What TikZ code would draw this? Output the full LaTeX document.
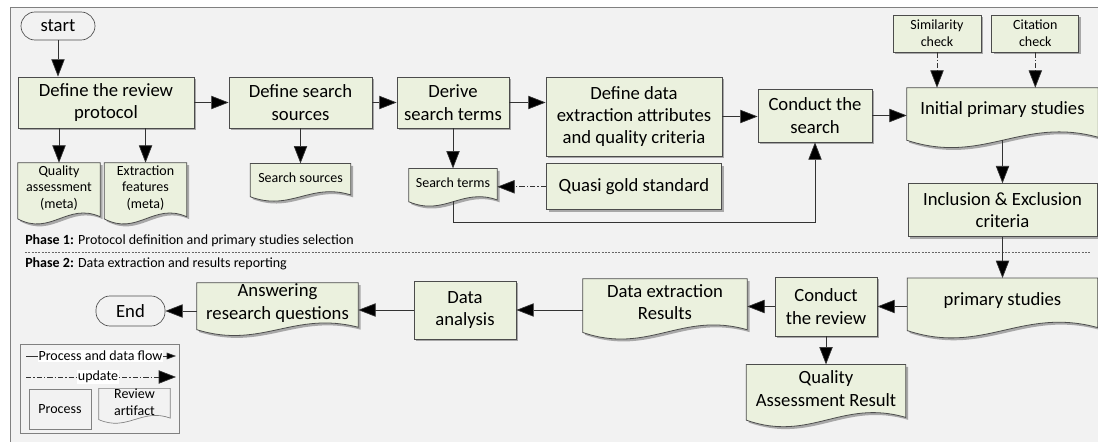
\documentclass[tikz,border=0pt]{standalone}
\usepackage{fontspec}
\setmainfont{Carlito}
\usetikzlibrary{arrows.meta,positioning,calc,shadows,backgrounds}
\definecolor{boxgreen}{HTML}{EBF1DE}
\definecolor{panel}{HTML}{F2F2F2}

\begin{document}
\begin{tikzpicture}[x=0.75pt,y=-0.75pt]
\tikzstyle{process}=[rectangle, draw=black!70, line width=0.6pt, fill=boxgreen, align=center, inner sep=0pt, font=\fontsize{14}{16.8}\selectfont, drop shadow={shadow xshift=1.8pt, shadow yshift=-1.8pt, opacity=0.3, fill=black}]
\tikzstyle{artifact}=[rectangle, align=center, inner sep=0pt, font=\fontsize{14}{16.8}\selectfont]
\tikzstyle{small}=[font=\fontsize{10.5}{12.6}\selectfont]
\tikzstyle{docshape}=[draw=black!70, line width=0.6pt, fill=boxgreen, drop shadow={shadow xshift=1.8pt, shadow yshift=-1.8pt, opacity=0.3, fill=black}]
\tikzstyle{legdoc}=[draw=black!50, line width=0.5pt]
\tikzstyle{terminal}=[rectangle, rounded corners=10.5pt, draw=black!70, line width=0.5pt, inner sep=0pt, font=\fontsize{14}{16.8}\selectfont]
\tikzstyle{connect}=[-{Triangle[length=13pt,width=10pt,fill=black]}, line width=0.5pt, draw=black!80]
\tikzstyle{update}=[connect, dash pattern=on 4pt off 1.5pt on 1pt off 1.5pt]

  \useasboundingbox (0,0) rectangle (1098,442);
  \begin{scope}[on background layer]
    \fill[panel] (10,7) rectangle (1098,442);
    \draw[black!50, line width=0.6pt] (10,442) -- (10,7) -- (1098,7);
  \end{scope}

  % phase 1
  \node[terminal, minimum width=55.5pt, minimum height=21pt] (start) at (58,26) {start};
  \node[process, minimum width=132pt, minimum height=38.25pt] (protocol) at (106,102.5) {Define the review\\protocol};
  \node[process, minimum width=107.25pt, minimum height=38.25pt] (sources) at (300.5,102.5) {Define search\\sources};
  \node[process, minimum width=84pt, minimum height=38.25pt] (derive) at (453,102.5) {Derive\\search terms};
  \node[process, minimum width=132pt, minimum height=59.25pt] (attrs) at (634,116.5) {Define data\\extraction attributes\\and quality criteria};
  \node[process, minimum width=85.5pt, minimum height=39.75pt] (search) at (815,115.5) {Conduct the\\search};
  \node[artifact, minimum width=143.25pt, minimum height=33pt] (ips) at (1002.5,110) {Initial primary studies};
  \node[process, small, minimum width=66pt, minimum height=27.75pt] (simcheck) at (937,33.5) {Similarity\\check};
  \node[process, small, minimum width=65.25pt, minimum height=27.75pt] (citcheck) [right=7.5pt of simcheck] {Citation\\check};

  \node[artifact, small, minimum width=61.5pt, minimum height=37.5pt] (qa) at (59,188) {Quality\\assessment\\(meta)};
  \node[artifact, small, minimum width=61.5pt, minimum height=37.5pt] (ef) [right=3pt of qa] {Extraction\\features\\(meta)};
  \node[artifact, small, minimum width=75pt, minimum height=21pt] (ssdoc) [below=26.25pt of sources] {Search sources};
  \node[artifact, minimum width=66pt, minimum height=21pt, font=\fontsize{10.5}{12}\selectfont] (stdoc) [below=30pt of derive] {Search terms};
  \node[process, minimum width=131.25pt, minimum height=34.5pt] (quasi) [below=5.25pt of attrs] {Quasi gold standard};
  \node[process, minimum width=141.75pt, minimum height=39.75pt] (incl) [below=38.25pt of ips] {Inclusion \& Exclusion\\criteria};

  \node[anchor=west, inner sep=0pt, font=\fontsize{10.5}{12}\selectfont] (ph1) at (25,241) {\textbf{Phase 1:} Protocol definition and primary studies selection};
  \draw[black!60, line width=0.4pt, dash pattern=on 1.5pt off 1pt] (25,252) -- (1090,252);
  \node[anchor=west, inner sep=0pt, font=\fontsize{10.5}{12}\selectfont] (ph2) at (25,264) {\textbf{Phase 2:} Data extraction and results reporting};

  % phase 2
  \node[artifact, minimum width=142.5pt, minimum height=33pt] (ps) [below=30.75pt of incl] {primary studies};
  \node[process, minimum width=76.5pt, minimum height=44.25pt] (review) at (826,306.5) {Conduct\\the review};
  \node[artifact, minimum width=119.25pt, minimum height=36pt] (qar) [below=21pt of review] {Quality\\Assessment Result};
  \node[artifact, minimum width=123pt, minimum height=34.5pt] (der) at (665,302) {Data extraction\\Results};
  \node[process, minimum width=76.5pt, minimum height=43.5pt] (analysis) at (465,310) {Data\\analysis};
  \node[artifact, minimum width=120.75pt, minimum height=30pt] (arq) at (277.5,303) {Answering\\research questions};
  \node[terminal, minimum width=51.75pt, minimum height=22.5pt] (end) at (130.5,311) {End};

  % legend
  \node[draw=black!50, line width=0.5pt, minimum width=119.25pt, minimum height=66.75pt, inner sep=0pt] (legend) at (99.5,388.5) {};
  \coordinate (f0) at (26,356);
  \coordinate (f1) at (176,356);
  \draw[connect, -{Triangle[length=7pt,width=5pt,fill=black]}] (f0) -- (f1);
  \node[fill=white, inner sep=0.6pt, font=\fontsize{10.5}{12}\selectfont] (flowtxt) at (100.5,356) {Process and data flow};
  \coordinate (u0) at (26,377);
  \coordinate (u1) at (176,377);
  \draw[update] (u0) -- (u1);
  \node[fill=white, inner sep=0.6pt, font=\fontsize{10.5}{12}\selectfont] (updtxt) at (98,377) {update};
  \node[rectangle, draw=black!50, line width=0.7pt, minimum width=46.5pt, minimum height=30pt, inner sep=0pt, font=\fontsize{10.5}{12}\selectfont] (legproc) at (60,409) {Process};
  \node[artifact, minimum width=53.25pt, minimum height=20pt, font=\fontsize{10.5}{12.6}\selectfont] (legart) at (134.5,402) {Review\\artifact};

  \begin{scope}[on background layer]
    \foreach \n/\s/\st in {qa/0.7/docshape, ef/0.7/docshape, ssdoc/0.6/docshape, stdoc/0.6/docshape, ips/1/docshape, ps/1/docshape, der/0.9/docshape, arq/0.8/docshape, qar/0.9/docshape, legart/0.5/legdoc}
      \draw[\st] (\n.north west) -- (\n.north east) -- ($(\n.south east)+(0,5*\s)$)
        .. controls ($(\n.south east)!0.4!(\n.south west)+(0,-16*\s)$) and ($(\n.south east)!0.6!(\n.south west)+(0,33*\s)$)
        .. ($(\n.south west)+(0,8*\s)$) -- cycle;
  \end{scope}

  % flows
  \draw[connect] (start.south) -- (start.south |- protocol.north);
  \draw[connect] (protocol) -- (sources);
  \draw[connect] (sources) -- (derive);
  \draw[connect] (derive.east) -- (derive.east -| attrs.west);
  \draw[connect] (attrs.east) -- (attrs.east -| search.west);
  \draw[connect] (search.east) -- (search.east -| ips.west);
  \draw[connect] (qa.north |- protocol.south) -- (qa.north);
  \draw[connect] (ef.north |- protocol.south) -- (ef.north);
  \draw[connect] (ssdoc.north |- sources.south) -- (ssdoc.north);
  \draw[connect] (derive) -- (stdoc);
  \draw[update] (quasi.west) -- (quasi.west -| stdoc.east);
  \draw[connect] ($(stdoc.south)+(0,4.5)$) |- ($(search.south)+(0,80)$) -- (search.south);
  \draw[update] (simcheck) -- (simcheck |- ips.north);
  \draw[update] (citcheck) -- (citcheck |- ips.north);
  \draw[connect] ($(ips.south)+(0,7.5)$) -- (incl.north);
  \draw[connect] (incl.south) -- (incl.south |- ps.north);
  \draw[connect] (ps.west |- review) -- (review.east);
  \draw[connect] (review.west) -- (review.west -| der.east);
  \draw[connect] (der.west |- analysis) -- (analysis.east);
  \draw[connect] (analysis.west) -- (analysis.west -| arq.east);
  \draw[connect] (arq.west |- end) -- (end.east);
  \draw[connect] (review) -- (qar);
\end{tikzpicture}
\end{document}
